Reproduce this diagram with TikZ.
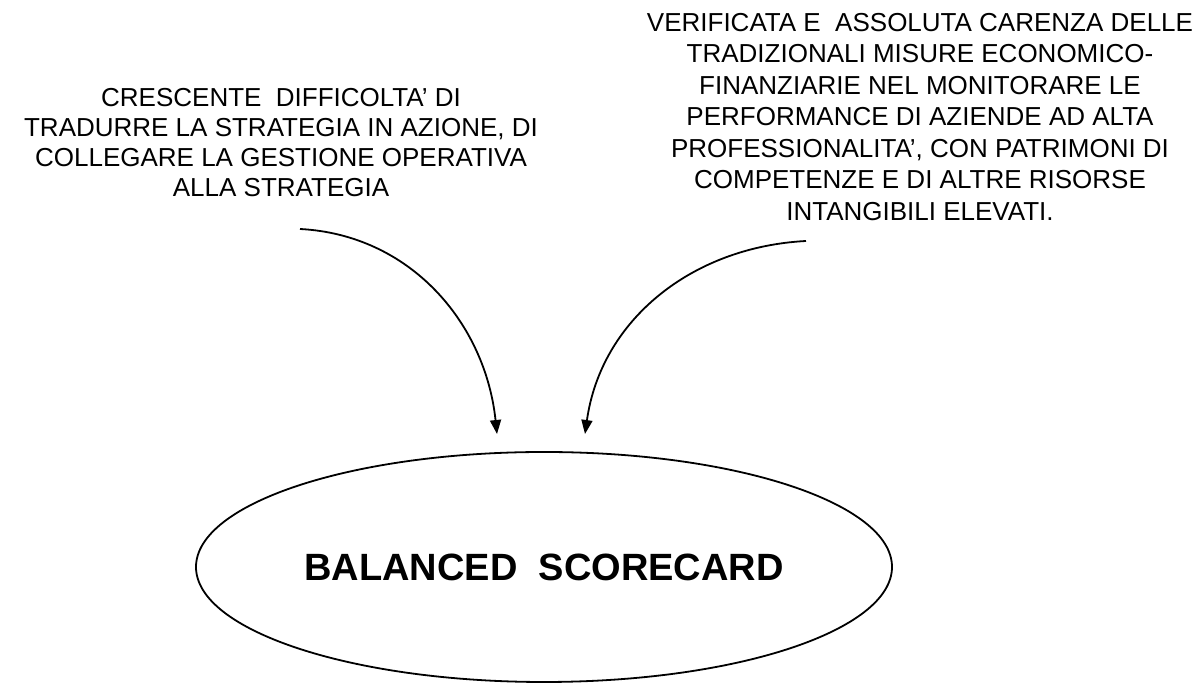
\documentclass[tikz,border=0pt]{standalone}
\usepackage{fontspec}
\setmainfont{Liberation Sans}
\usetikzlibrary{shapes.geometric,arrows.meta}
\begin{document}
\begin{tikzpicture}[x=1pt,y=1pt,
  txt/.style={align=center, inner sep=0pt, anchor=north, font=\fontsize{26}{30}\selectfont},
  conn/.style={line width=1.8pt, -{Triangle[length=14pt,width=11pt]}},
  bubble/.style={draw, ellipse, line width=1.8pt, inner sep=0pt, minimum width=696pt, minimum height=230pt, font=\fontsize{38}{44}\selectfont\bfseries}
]
\useasboundingbox (0,0) rectangle (1197,684);
\node[txt] (left) at (281,596) {CRESCENTE\ \ DIFFICOLTA’ DI\\TRADURRE LA STRATEGIA IN AZIONE, DI\\COLLEGARE LA GESTIONE OPERATIVA\\ALLA STRATEGIA};
\node[txt, font=\fontsize{26}{31.5}\selectfont] (right) at (920,671) {VERIFICATA E\ \ ASSOLUTA CARENZA DELLE\\TRADIZIONALI MISURE ECONOMICO-\\FINANZIARIE NEL MONITORARE LE\\PERFORMANCE DI AZIENDE AD ALTA\\PROFESSIONALITA’, CON PATRIMONI DI\\COMPETENZE E DI ALTRE RISORSE\\INTANGIBILI ELEVATI.};
\node[bubble] (bsc) at (544,117) {BALANCED\ \ SCORECARD};
\coordinate (s1) at (300,455);
\coordinate (e1) at (497,250);
\coordinate (s2) at (806,443);
\coordinate (e2) at (585,250);
\draw[conn] (s1) to[out=-3,in=96] (e1);
\draw[conn] (s2) to[out=183,in=82] (e2);
\end{tikzpicture}
\end{document}
